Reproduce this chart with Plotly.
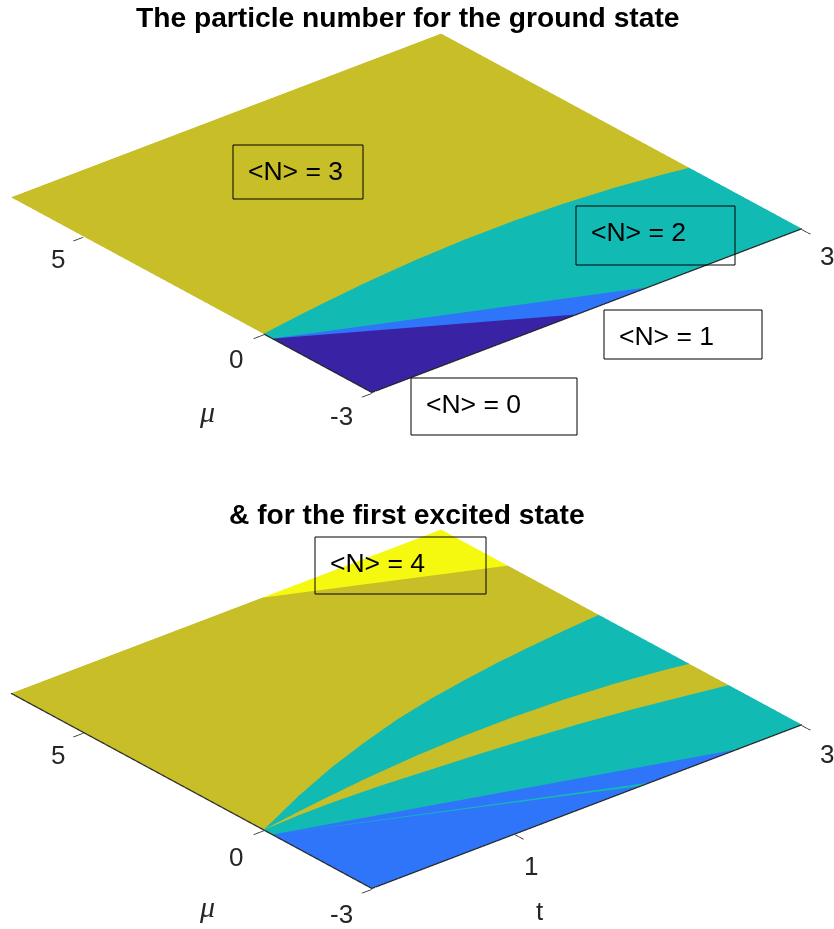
import plotly.graph_objects as go

# ---- data (t, mu) ----
curve_upper_t = [0, 0.21, 0.41, 0.80, 1.17, 1.53, 1.88, 2.21, 2.54, 2.84, 3]
curve_upper_mu = [0, 0.113, 0.212, 0.372, 0.479, 0.534, 0.535, 0.485, 0.381, 0.225, 0.12]
curve_high_t = [0, 0.40, 0.75, 1.07, 1.38, 1.68, 1.95, 2.22, 2.48, 2.73, 3]
curve_high_mu = [0, 0.62, 1.10, 1.47, 1.79, 2.03, 2.20, 2.35, 2.46, 2.55, 2.63]
curve_low_t = [0, 0.25, 0.48, 0.82, 1.14, 1.47, 1.79, 2.10, 2.41, 2.71, 3]
curve_low_mu = [0, 0.04, 0.04, -0.01, -0.10, -0.19, -0.30, -0.43, -0.59, -0.78, -0.97]
kink_mu = -0.24
n1_end_t = 1.93
n0_end_t = 1.43
ex_blue_end_t = 2.55
sliver_t = [1.88, 1.94]
n4_start_t = 1.75
n4_end_mu = 5.15
T_MAX, MU_MIN, MU_MAX = 3, -3, 7
MU_TICKS = [-3, 0, 5]
T_TICKS_TOP = [3]
T_TICKS_BOT = [1, 3]
PARULA = {0: "#3A22A5", 1: "#2F75FA", 2: "#12BAB4", 3: "#C7BE28", 4: "#F5F90F"}
TITLES = ["The particle number for the ground state", "& for the first excited state"]
BOXES = [("<N> = 3", 233, 145, 363, 199, False), ("<N> = 2", 576, 206, 735, 265, False),
         ("<N> = 1", 604, 310, 762, 359, True), ("<N> = 0", 411, 378, 577, 435, True),
         ("<N> = 4", 315, 537, 486, 594, False)]

W, H = 834, 929
FONT = "Liberation Sans, Arial, sans-serif"
INK = "#262626"


def pts(ts, ms):
    return list(zip(ts, ms))


upper = pts(curve_upper_t, curve_upper_mu)
high = pts(curve_high_t, curve_high_mu)
low = pts(curve_low_t, curve_low_mu)
K = (0, kink_mu)

ground = [
    (3, upper[:] + [(T_MAX, MU_MAX), (0, MU_MAX)]),
    (2, upper[:] + [(T_MAX, MU_MIN), (n1_end_t, MU_MIN), K]),
    (1, [K, (n1_end_t, MU_MIN), (n0_end_t, MU_MIN)]),
    (0, [K, (n0_end_t, MU_MIN), (0, MU_MIN)]),
]
excited = [
    (3, high[:] + [(T_MAX, n4_end_mu), (n4_start_t, MU_MAX), (0, MU_MAX)]),
    (4, [(n4_start_t, MU_MAX), (T_MAX, n4_end_mu), (T_MAX, MU_MAX)]),
    (2, high[:] + upper[::-1][:-1]),
    (3, upper[:] + low[::-1][:-1]),
    (2, low[:] + [(T_MAX, MU_MIN), (ex_blue_end_t, MU_MIN), K]),
    (1, [K, (ex_blue_end_t, MU_MIN), (sliver_t[1], MU_MIN)]),
    (2, [K, (sliver_t[1], MU_MIN), (sliver_t[0], MU_MIN)]),
    (1, [K, (sliver_t[0], MU_MIN), (0, MU_MIN)]),
]


def area(p):
    return sum(p[i][0] * p[(i + 1) % len(p)][1] - p[(i + 1) % len(p)][0] * p[i][1] for i in range(len(p))) / 2


def triangulate(p):
    """ear clipping; returns i, j, k index lists"""
    sign = 1 if area(p) > 0 else -1
    idx = list(range(len(p)))
    out = []

    def cross(a, b, c):
        return (b[0] - a[0]) * (c[1] - a[1]) - (b[1] - a[1]) * (c[0] - a[0])

    while len(idx) > 3:
        for n in range(len(idx)):
            a, b, c = idx[n - 1], idx[n], idx[(n + 1) % len(idx)]
            if cross(p[a], p[b], p[c]) * sign <= 1e-12:
                continue
            inside = False
            for q in idx:
                if q in (a, b, c):
                    continue
                s1 = cross(p[a], p[b], p[q]) * sign
                s2 = cross(p[b], p[c], p[q]) * sign
                s3 = cross(p[c], p[a], p[q]) * sign
                if s1 >= 0 and s2 >= 0 and s3 >= 0:
                    inside = True
                    break
            if not inside:
                out.append((a, b, c))
                idx.pop(n)
                break
        else:
            break
    if len(idx) == 3:
        out.append(tuple(idx))
    return [o[0] for o in out], [o[1] for o in out], [o[2] for o in out]


def region_trace(level, poly, scene):
    i, j, k = triangulate(poly)
    return go.Mesh3d(
        x=[q[0] for q in poly], y=[q[1] for q in poly], z=[0] * len(poly), i=i, j=j, k=k,
        color=PARULA[level], flatshading=True, hoverinfo="skip", showscale=False, scene=scene,
        lighting=dict(ambient=1, diffuse=0, specular=0, fresnel=0, roughness=1),
    )


def axis_line(xs, ys, scene):
    return go.Scatter3d(x=xs, y=ys, z=[0.02] * len(xs), mode="lines", scene=scene, hoverinfo="skip",
                        line=dict(color=INK, width=2.5))


fig = go.Figure()
for lev, poly in ground:
    fig.add_trace(region_trace(lev, poly, "scene"))
fig.add_trace(axis_line([0, 0, T_MAX], [0, MU_MIN, MU_MIN], "scene"))
for lev, poly in excited:
    fig.add_trace(region_trace(lev, poly, "scene2"))
fig.add_trace(axis_line([0, 0, T_MAX], [MU_MAX, MU_MIN, MU_MIN], "scene2"))

EYE_R = 6.0
SCALE = 2.636
eye = dict(x=-0.573 * EYE_R, y=-0.683 * EYE_R, z=0.454 * EYE_R)
LABEL = dict(family=FONT, size=26, color=INK)


def scene_layout(t_ticks, y0, y1, extra_y):
    ann = []
    for v, xs, ys in zip(MU_TICKS, [-30, -27, -25], [24 + extra_y, 25 + extra_y, 23]):
        ann.append(dict(x=0, y=v, z=0, text=str(v), showarrow=False, xshift=xs, yshift=-ys, font=LABEL))
    for v in t_ticks:
        is_end = v == T_MAX
        ann.append(dict(x=v, y=MU_MIN, z=0, text=str(v), showarrow=False, xshift=25 if is_end else 16,
                        yshift=-(27 + extra_y) if is_end else -32, font=LABEL))
    return dict(
        domain=dict(x=[0, 812.5 / W], y=[1 - y1 / H, 1 - y0 / H]),
        aspectmode="manual", aspectratio=dict(x=SCALE, y=SCALE, z=0.01),
        camera=dict(eye=eye, up=dict(x=0, y=0, z=1), center=dict(x=0, y=0, z=0),
                    projection=dict(type="orthographic")),
        xaxis=dict(range=[0, T_MAX], tickvals=t_ticks, ticktext=[""] * len(t_ticks), showgrid=False, showbackground=False,
                   zeroline=False, showline=False, ticks="outside", ticklen=13, tickwidth=2,
                   tickcolor=INK, title=dict(text=""), showspikes=False),
        yaxis=dict(range=[MU_MIN, MU_MAX], tickvals=MU_TICKS, ticktext=[""] * len(MU_TICKS), showgrid=False, showbackground=False,
                   zeroline=False, showline=False, ticks="outside", ticklen=13, tickwidth=2,
                   tickcolor=INK, title=dict(text=""), showspikes=False),
        zaxis=dict(visible=False, range=[-1, 1]),
        annotations=ann,
    )


fig.update_layout(
    width=W, height=H, margin=dict(l=0, r=0, t=0, b=0), paper_bgcolor="white", showlegend=False,
    scene=scene_layout(T_TICKS_TOP, 0, 426, 0),
    scene2=scene_layout(T_TICKS_BOT, 496, 922, 2),
)


def px(x):
    return x / W


def py(y):
    return 1 - y / H


ann, shapes = [], []
for txt, yc in zip(TITLES, [17, 514]):
    ann.append(dict(text="<b>%s</b>" % txt, x=px(407), y=py(yc), xref="paper", yref="paper", showarrow=False,
                    xanchor="center", yanchor="middle", font=dict(family=FONT, size=28.2, color="black")))
for txt, x0, y0, x1, y1, filled in BOXES:
    shapes.append(dict(type="rect", xref="paper", yref="paper", x0=px(x0), x1=px(x1), y0=py(y0), y1=py(y1),
                       line=dict(color="black", width=1),
                       fillcolor="white" if filled else "rgba(0,0,0,0)", layer="above"))
    ann.append(dict(text=txt.replace("<", "&lt;").replace(">", "&gt;"), x=px(x0 + 13.5), y=py(y0 + 26), xref="paper",
                    yref="paper", showarrow=False, xanchor="left", yanchor="middle", borderpad=0,
                    font=dict(family=FONT, size=26.5, color="black")))
for yc in [411, 906]:
    ann.append(dict(text="<i>μ</i>", x=px(207), y=py(yc), xref="paper", yref="paper", showarrow=False,
                    xanchor="center", yanchor="middle",
                    font=dict(family="Liberation Serif, serif", size=30, color=INK)))
ann.append(dict(text="t", x=px(540), y=py(911), xref="paper", yref="paper", showarrow=False,
                xanchor="center", yanchor="middle", font=LABEL))
fig.update_layout(annotations=ann, shapes=shapes)
fig.write_html("out.html", config={"displayModeBar": False},
               post_script="document.body.style.margin='0';window.dispatchEvent(new Event('resize'));")
